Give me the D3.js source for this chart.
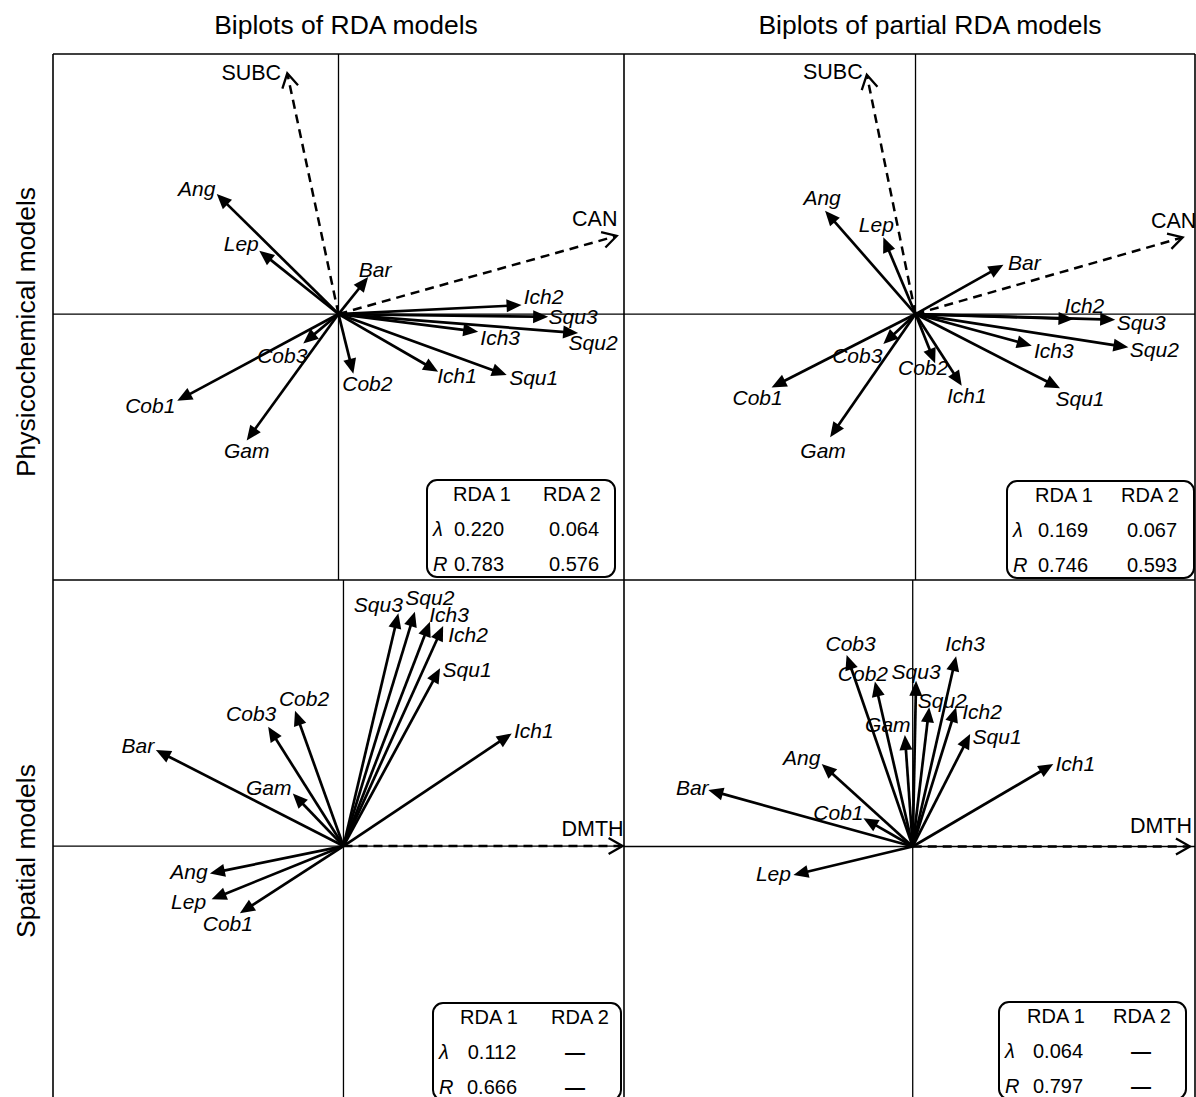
<!DOCTYPE html>
<html>
<head>
<meta charset="utf-8">
<script src="https://cdn.jsdelivr.net/npm/d3@7"></script>
<style>
  html, body { margin: 0; padding: 0; background: #fff; }
  svg { display: block; }
  text { font-family: "Liberation Sans", Arial, Helvetica, sans-serif; fill: #000; }
</style>
</head>
<body>
<svg id="chart" width="1196" height="1097"></svg>
<script>
// ---- Response variables (fish taxa) ----
const species = ["Ang", "Lep", "Bar", "Ich1", "Ich2", "Ich3", "Squ1", "Squ2", "Squ3", "Cob1", "Cob2", "Cob3", "Gam"];

// Biplot scores on RDA axis 1 / axis 2, one entry per taxon (order of `species`)
const physRdaAxis1 = [-0.435, -0.283, 0.106, 0.356, 0.654, 0.499, 0.601, 0.856, 0.749, -0.576, 0.053, -0.126, -0.328];
const physRdaAxis2 = [0.429, 0.226, 0.132, -0.206, 0.032, -0.063, -0.218, -0.068, -0.010, -0.310, -0.213, -0.105, -0.452];

const physPartialAxis1 = [-0.323, -0.115, 0.314, 0.165, 0.564, 0.415, 0.516, 0.760, 0.713, -0.514, 0.070, -0.115, -0.305];
const physPartialAxis2 = [0.369, 0.274, 0.176, -0.256, -0.018, -0.113, -0.265, -0.119, -0.020, -0.262, -0.176, -0.107, -0.440];

const spatRdaAxis1 = [-0.477, -0.471, -0.670, 0.601, 0.356, 0.309, 0.345, 0.255, 0.196, -0.370, -0.173, -0.269, -0.181];
const spatRdaAxis2 = [-0.098, -0.190, 0.343, 0.402, 0.786, 0.801, 0.635, 0.837, 0.831, -0.240, 0.483, 0.426, 0.188];

const spatPartialAxis1 = [-0.325, -0.426, -0.730, 0.502, 0.155, 0.155, 0.205, 0.059, 0.012, -0.176, -0.135, -0.236, -0.028];
const spatPartialAxis2 = [0.295, -0.102, 0.202, 0.295, 0.497, 0.680, 0.402, 0.497, 0.592, 0.101, 0.589, 0.684, 0.398];

// ---- Explanatory variables (dashed vectors) ----
const envPhys = ["SUBC", "CAN"];
const envPhysRdaAxis1 = [-0.183, 0.994];
const envPhysRdaAxis2 = [0.860, 0.279];
const envPhysPartialAxis1 = [-0.174, 0.954];
const envPhysPartialAxis2 = [0.855, 0.274];

const envSpat = ["DMTH"];
const envSpatRdaAxis1 = [0.997];
const envSpatRdaAxis2 = [0.0];
const envSpatPartialAxis1 = [0.990];
const envSpatPartialAxis2 = [0.0];

// ---- Eigenvalues (λ) and species–environment correlations (R) ----
const statAxes = ["RDA 1", "RDA 2"];
const lambdaPhysRda = [0.220, 0.064];
const rPhysRda = [0.783, 0.576];
const lambdaPhysPartial = [0.169, 0.067];
const rPhysPartial = [0.746, 0.593];
const lambdaSpatRda = [0.112, null];
const rSpatRda = [0.666, null];
const lambdaSpatPartial = [0.064, null];
const rSpatPartial = [0.797, null];

// ---- Headings ----
const columnTitles = ["Biplots of RDA models", "Biplots of partial RDA models"];
const rowTitles = ["Physicochemical models", "Spatial models"];

// ---- Layout ----
// label centre offsets (px) from each arrow tip, in `species` order
const nudgePhysRda = [[-20,-5],[-18,-7],[7,-7],[19,4],[22,-8],[22,6],[27,3],[15,10],[25,0],[-27,5],[14,10],[-21,12],[0,10]];
const nudgePhysPartial = [[-3,-13],[-7,-13],[21,-2],[5,10],[11,-13],[22,5],[20,10],[26,2],[26,3],[-14,10],[-12,4],[-26,12],[-7,13]];
const nudgeSpatRda = [[-21,-2],[-23,2],[-18,-4],[22,-3],[25,9],[19,-7],[27,1],[15,-14],[-20,-9],[-12,10],[9,-12],[-17,-13],[-24,-6]];
const nudgeSpatPartial = [[-20,-6],[-20,-1],[-16,-2],[22,0],[26,4],[9,-12],[27,3],[13,-7],[0,-9],[-25,-6],[-12,-8],[4,-11],[-17,-10]];

const panels = [
  { x0: 53,  x1: 624,  y0: 54,  y1: 580,  xlim: [-1.020, 1.020], ylim: [-0.950, 0.929],
    a1: physRdaAxis1, a2: physRdaAxis2, nudge: nudgePhysRda,
    env: envPhys, e1: envPhysRdaAxis1, e2: envPhysRdaAxis2, envNudge: [[-36,-1],[-22,-17]],
    lambda: lambdaPhysRda, r: rPhysRda,
    table: [427, 480, 188, 97], headX: [55, 145], valX: [52, 147] },
  { x0: 624, x1: 1195, y0: 54,  y1: 580,  xlim: [-1.041, 0.998], ylim: [-0.950, 0.929],
    a1: physPartialAxis1, a2: physPartialAxis2, nudge: nudgePhysPartial,
    env: envPhys, e1: envPhysPartialAxis1, e2: envPhysPartialAxis2, envNudge: [[-34,-3],[-9,-17]],
    lambda: lambdaPhysPartial, r: rPhysPartial,
    table: [1007, 481, 187, 97], headX: [57, 143], valX: [56, 145] },
  { x0: 53,  x1: 624,  y0: 580, y1: 1097, xlim: [-1.0375, 1.002], ylim: [-0.896, 0.950],
    a1: spatRdaAxis1, a2: spatRdaAxis2, nudge: nudgeSpatRda,
    env: envSpat, e1: envSpatRdaAxis1, e2: envSpatRdaAxis2, envNudge: [[-30,-18]],
    lambda: lambdaSpatRda, r: rSpatRda,
    table: [433, 1003, 188, 97], headX: [56, 147], valX: [59, 142] },
  { x0: 624, x1: 1195, y0: 580, y1: 1097, xlim: [-1.031, 1.008], ylim: [-0.895, 0.952],
    a1: spatPartialAxis1, a2: spatPartialAxis2, nudge: nudgeSpatPartial,
    env: envSpat, e1: envSpatPartialAxis1, e2: envSpatPartialAxis2, envNudge: [[-29,-21]],
    lambda: lambdaSpatPartial, r: rSpatPartial,
    table: [999, 1002, 187, 97], headX: [57, 143], valX: [59, 142] }
];

const svg = d3.select("#chart");

// column and row headings
svg.selectAll("text.coltitle").data(columnTitles).join("text")
  .attr("class", "coltitle")
  .attr("x", (d, i) => [346, 930][i]).attr("y", 34)
  .attr("text-anchor", "middle").attr("font-size", 26.5)
  .text(d => d);

svg.selectAll("text.rowtitle").data(rowTitles).join("text")
  .attr("class", "rowtitle")
  .attr("transform", (d, i) => `translate(35,${[332, 851][i]}) rotate(-90)`)
  .attr("text-anchor", "middle").attr("font-size", 26.5)
  .text(d => d);

// outer frame and panel separators
const frame = svg.append("g").attr("stroke", "#000").attr("stroke-width", 1.6).attr("fill", "none");
frame.append("line").attr("x1", 53).attr("x2", 1195).attr("y1", 54).attr("y2", 54);
frame.append("line").attr("x1", 53).attr("x2", 53).attr("y1", 54).attr("y2", 1097);
frame.append("line").attr("x1", 624).attr("x2", 624).attr("y1", 54).attr("y2", 1097);
frame.append("line").attr("x1", 1195).attr("x2", 1195).attr("y1", 54).attr("y2", 1097);
frame.append("line").attr("x1", 53).attr("x2", 1195).attr("y1", 580).attr("y2", 580);

const HEAD_LEN = 15, HEAD_HALF = 6.5;     // filled arrowheads
const OPEN_LEN = 14, OPEN_HALF = 8;       // open arrowheads on dashed vectors

panels.forEach(p => {
  const x = d3.scaleLinear().domain(p.xlim).range([p.x0, p.x1]);
  const y = d3.scaleLinear().domain(p.ylim).range([p.y1, p.y0]);
  const g = svg.append("g");
  const ox = x(0), oy = y(0);

  // zero axes
  g.append("line").attr("x1", p.x0).attr("x2", p.x1).attr("y1", oy).attr("y2", oy)
    .attr("stroke", "#000").attr("stroke-width", 1.3);
  g.append("line").attr("x1", ox).attr("x2", ox).attr("y1", p.y0).attr("y2", p.y1)
    .attr("stroke", "#000").attr("stroke-width", 1.3);

  // dashed explanatory vectors with open heads
  const envData = p.env.map((name, i) => ({ name, tx: x(p.e1[i]), ty: y(p.e2[i]), nd: p.envNudge[i] }));
  envData.forEach(d => {
    const dx = d.tx - ox, dy = d.ty - oy, len = Math.hypot(dx, dy);
    const ux = dx / len, uy = dy / len, nx = -uy, ny = ux;
    g.append("line").attr("x1", ox).attr("y1", oy).attr("x2", d.tx - ux * 1).attr("y2", d.ty - uy * 1)
      .attr("stroke", "#000").attr("stroke-width", 2.5).attr("stroke-dasharray", "9,6");
    const bx = d.tx - ux * OPEN_LEN, by = d.ty - uy * OPEN_LEN;
    g.append("path")
      .attr("d", `M${bx + nx * OPEN_HALF},${by + ny * OPEN_HALF}L${d.tx},${d.ty}L${bx - nx * OPEN_HALF},${by - ny * OPEN_HALF}`)
      .attr("fill", "none").attr("stroke", "#000").attr("stroke-width", 2.3);
    g.append("text").attr("x", d.tx + d.nd[0]).attr("y", d.ty + d.nd[1]).attr("dy", "0.35em")
      .attr("text-anchor", "middle").attr("font-size", 21.5).text(d.name);
  });

  // species vectors with filled heads
  const spData = species.map((name, i) => ({ name, tx: x(p.a1[i]), ty: y(p.a2[i]), nd: p.nudge[i] }));
  spData.forEach(d => {
    const dx = d.tx - ox, dy = d.ty - oy, len = Math.hypot(dx, dy);
    const ux = dx / len, uy = dy / len, nx = -uy, ny = ux;
    const bx = d.tx - ux * HEAD_LEN, by = d.ty - uy * HEAD_LEN;
    g.append("line").attr("x1", ox).attr("y1", oy).attr("x2", bx + ux * 2).attr("y2", by + uy * 2)
      .attr("stroke", "#000").attr("stroke-width", 2.7);
    g.append("path")
      .attr("d", `M${d.tx},${d.ty}L${bx + nx * HEAD_HALF},${by + ny * HEAD_HALF}L${bx - nx * HEAD_HALF},${by - ny * HEAD_HALF}Z`)
      .attr("fill", "#000");
  });
  g.selectAll("text.sp").data(spData).join("text").attr("class", "sp")
    .attr("x", d => d.tx + d.nd[0]).attr("y", d => d.ty + d.nd[1]).attr("dy", "0.35em")
    .attr("text-anchor", "middle").attr("font-size", 21).attr("font-style", "italic")
    .text(d => d.name);

  // statistics box
  const [tx, ty, tw, th] = p.table;
  const t = svg.append("g").attr("transform", `translate(${tx},${ty})`);
  t.append("rect").attr("width", tw).attr("height", th).attr("rx", 10).attr("ry", 10)
    .attr("fill", "#fff").attr("stroke", "#000").attr("stroke-width", 2);
  const fs = 20;
  statAxes.forEach((a, j) => {
    t.append("text").attr("x", p.headX[j]).attr("y", 13.5).attr("dy", "0.35em")
      .attr("text-anchor", "middle").attr("font-size", fs).text(a);
  });
  [["λ", p.lambda, 49], ["R", p.r, 84]].forEach(([sym, vals, ry]) => {
    t.append("text").attr("x", 6).attr("y", ry).attr("dy", "0.35em")
      .attr("font-size", fs).attr("font-style", "italic").text(sym);
    vals.forEach((v, j) => {
      t.append("text").attr("x", p.valX[j]).attr("y", ry).attr("dy", "0.35em")
        .attr("text-anchor", "middle").attr("font-size", fs)
        .attr("font-weight", v === null ? "bold" : null)
        .text(v === null ? "—" : d3.format(".3f")(v));
    });
  });
});
</script>
</body>
</html>
